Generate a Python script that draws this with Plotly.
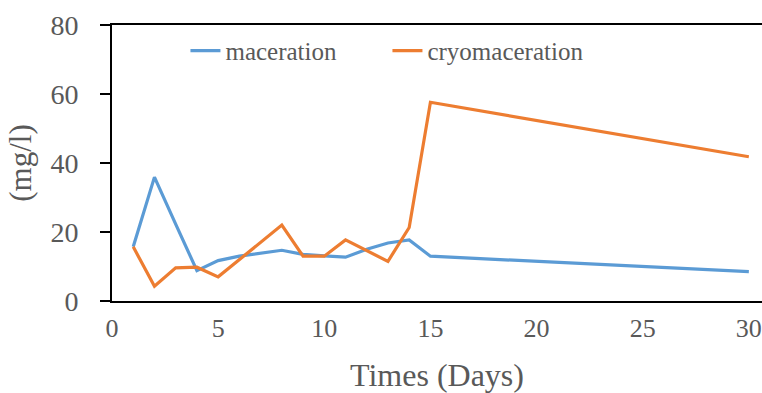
import plotly.graph_objects as go

days = [1, 2, 3, 4, 5, 6, 8, 9, 10, 11, 12, 13, 14, 15, 30]
maceration = [15.7, 35.9, 22.3, 8.8, 11.7, 13.0, 14.7, 13.5, 13.1, 12.7, 15.0, 16.8, 17.7, 13.0, 8.5]
cryomaceration = [15.7, 4.3, 9.6, 9.8, 7.0, 12.0, 22.0, 13.0, 13.0, 17.7, 14.6, 11.5, 21.3, 57.6, 41.8]
x_ticks = [0, 5, 10, 15, 20, 25, 30]
y_ticks = [0, 20, 40, 60, 80]

FONT = "Liberation Serif, Times New Roman, serif"
GREY = "#595959"

fig = go.Figure()
fig.add_trace(go.Scatter(x=days, y=maceration, mode="lines", name="maceration",
                         line=dict(color="#5B9BD5", width=3.2)))
fig.add_trace(go.Scatter(x=days, y=cryomaceration, mode="lines", name="cryomaceration",
                         line=dict(color="#ED7D31", width=3.2)))

fig.update_layout(
    width=762, height=393,
    margin=dict(l=112, r=0, t=25, b=92),
    paper_bgcolor="white", plot_bgcolor="white",
    font=dict(family=FONT, color=GREY, size=28),
    showlegend=True,
    legend=dict(orientation="h", x=0.113, y=0.906, xanchor="left", yanchor="middle",
                font=dict(size=25, color=GREY, family=FONT),
                bgcolor="rgba(0,0,0,0)", entrywidth=157, itemwidth=30),
    xaxis=dict(range=[0, 30.62], tickvals=x_ticks, showgrid=False, zeroline=False,
               showline=True, linecolor="black", linewidth=2, mirror=True,
               ticks="", ticklabelstandoff=3, automargin=False,
               ticklabeloverflow="allow",
               tickfont=dict(size=26, color=GREY, family=FONT),
               title=dict(text="Times (Days)", font=dict(size=32, color=GREY, family=FONT), standoff=23)),
    yaxis=dict(range=[0, 80], tickvals=y_ticks, showgrid=False, zeroline=False,
               showline=True, linecolor="black", linewidth=2, automargin=False,
               ticks="outside", ticklen=10, tickwidth=2, tickcolor="black",
               ticklabelstandoff=16, ticklabeloverflow="allow",
               tickfont=dict(size=28, color=GREY, family=FONT),
               title=dict(text="(mg/l)", font=dict(size=31, color=GREY, family=FONT), standoff=10)),
)

fig.write_html("out.html",
               config={"displayModeBar": False},
               post_script="document.body.style.margin='0';document.body.style.overflow='hidden';")
